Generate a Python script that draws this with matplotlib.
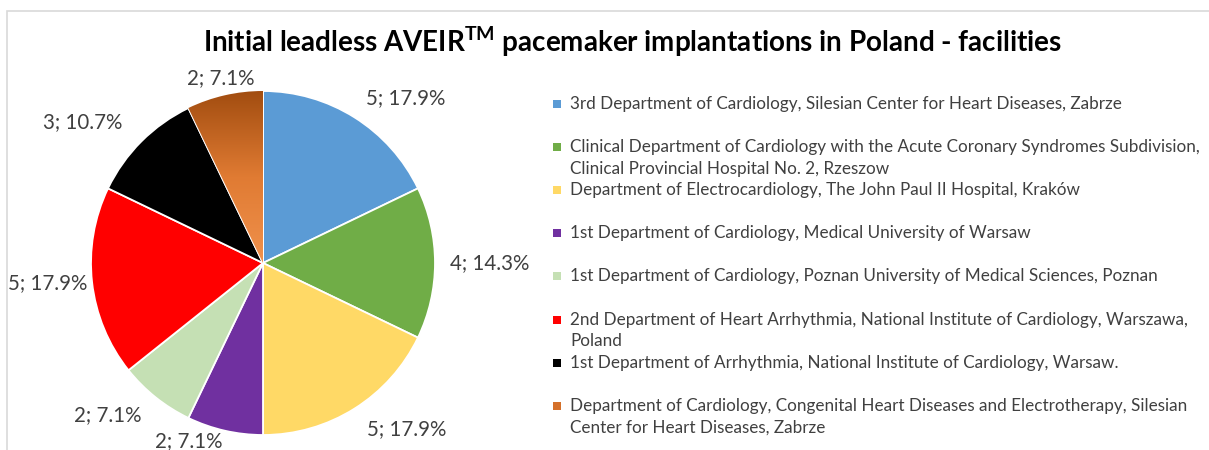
import matplotlib.pyplot as plt
import numpy as np
from matplotlib.colors import LinearSegmentedColormap
from matplotlib.patches import Rectangle

plt.rcParams['font.family'] = ['Lato', 'DejaVu Sans']

# data
facilities = [
    "3rd Department of Cardiology, Silesian Center for Heart Diseases, Zabrze",
    "Clinical Department of Cardiology with the Acute Coronary Syndromes Subdivision,\nClinical Provincial Hospital No. 2, Rzeszow",
    "Department of Electrocardiology, The John Paul II Hospital, Kraków",
    "1st Department of Cardiology, Medical University of Warsaw",
    "1st Department of Cardiology, Poznan University of Medical Sciences, Poznan",
    "2nd Department of Heart Arrhythmia, National Institute of Cardiology, Warszawa,\nPoland",
    "1st Department of Arrhythmia, National Institute of Cardiology, Warsaw.",
    "Department of Cardiology, Congenital Heart Diseases and Electrotherapy, Silesian\nCenter for Heart Diseases, Zabrze",
]
implants = [5, 4, 5, 2, 2, 5, 3, 2]
colors = ['#5B9BD5', '#70AD47', '#FFD966', '#7030A0', '#C5E0B4', '#FF0000', '#000000', '#D4702A']

# label placement (radius factor, alignment)
lab_r = [1.13, 1.09, 1.14, 1.06, 1.13, 1.03, 1.16, 1.10]
lab_ha = ['left', 'left', 'left', 'right', 'right', 'right', 'right', 'center']

W, H = 1209, 450
fig = plt.figure(figsize=(W / 100, H / 100), dpi=100)

# chart border
fig.add_artist(Rectangle((7 / W, -0.1), 1.2, (450 - 11) / H + 0.1, transform=fig.transFigure,
                         fill=False, edgecolor='#D9D9D9', linewidth=1.2))

# pie: center (263, 263) px, radius 172 px
cx, cy, R = 263, 263, 172
half = 200
ax = fig.add_axes([(cx - half) / W, (H - cy - half) / H, 2 * half / W, 2 * half / H])
wedges, _ = ax.pie(implants, colors=colors, startangle=90, counterclock=False,
                   wedgeprops=dict(edgecolor='white', linewidth=1.3))
lim = half / R

# gradient fill for the last slice
brown = LinearSegmentedColormap.from_list('brown', ['#F0914C', '#E07B33', '#A24D10'])
grad = np.linspace(0, 1, 256).reshape(-1, 1)
im = ax.imshow(grad, cmap=brown, extent=(-0.5, 0.1, 0, 1.0), origin='lower', aspect='auto', zorder=3)
im.set_clip_path(wedges[-1])
ax.set_xlim(-lim, lim)
ax.set_ylim(-lim, lim)

# data labels
total = sum(implants)
for i, w in enumerate(wedges):
    mid = np.deg2rad((w.theta1 + w.theta2) / 2)
    x = lab_r[i] * np.cos(mid)
    y = lab_r[i] * np.sin(mid)
    pct = implants[i] / total * 100
    ax.text(x, y, f"{implants[i]}; {pct:.1f}%", ha=lab_ha[i], va='center',
            fontsize=14.8, color='#404040', clip_on=False, zorder=5)

# title
fig.text(632 / W, 1 - 42 / H, r"Initial leadless AVEIR$^{\mathregular{TM}}$ pacemaker implantations in Poland - facilities",
         ha='center', va='center', fontsize=20, fontweight='bold', color='black')

# legend
leg_top = 104
leg_step = 43.1
for i, name in enumerate(facilities):
    yc = leg_top + i * leg_step
    fig.add_artist(Rectangle((553 / W, 1 - (yc + 4) / H), 8 / W, 8 / H, transform=fig.transFigure,
                             facecolor=colors[i], edgecolor='none'))
    fig.text(570 / W, 1 - (yc - 8) / H, name, ha='left', va='top', fontsize=12.3,
             color='#404040', linespacing=1.45)

fig.savefig('out.png', dpi=100)
